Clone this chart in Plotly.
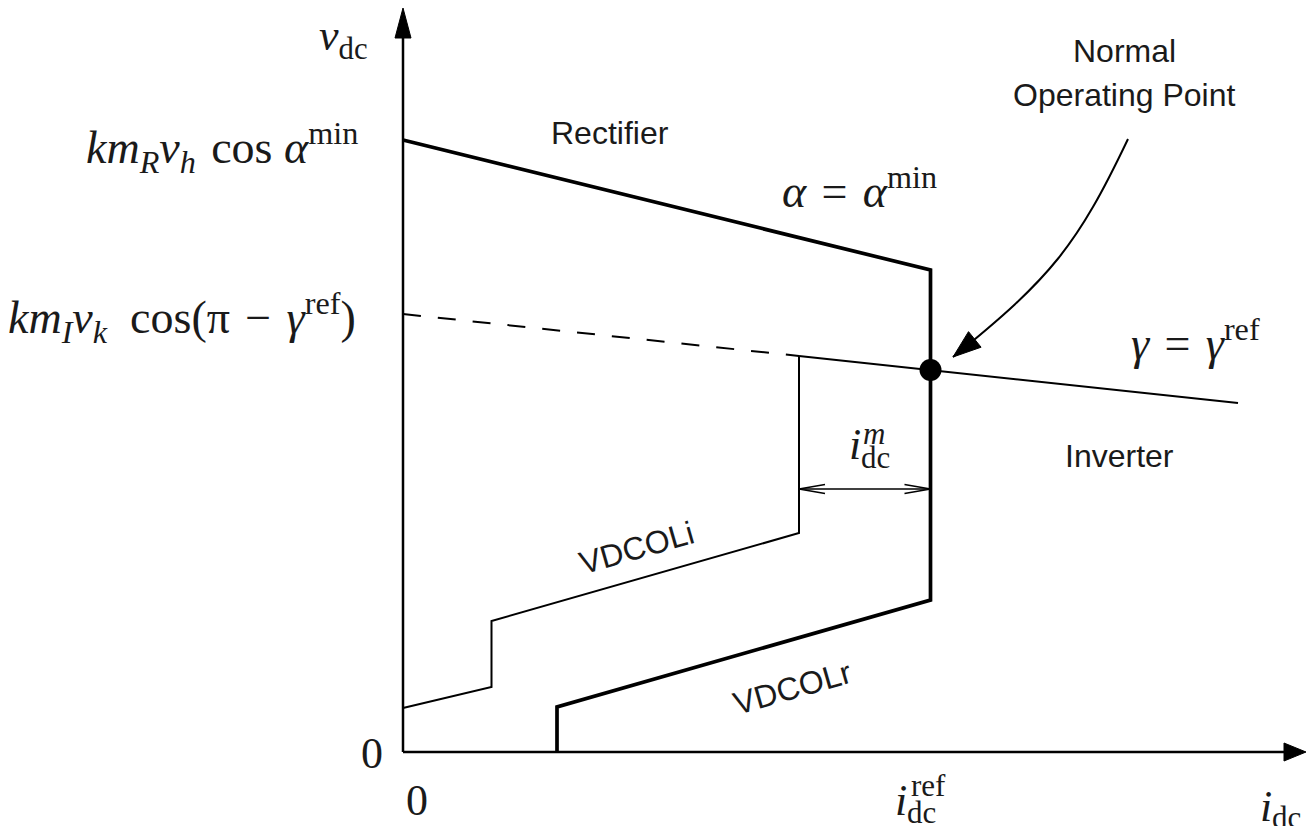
import numpy as np
import plotly.graph_objects as go

# ---------------- data (i_dc horizontal, v_dc vertical, arbitrary units) ----------------
rect_i = [0.0, 5.275, 5.275, 1.54, 1.54]          # alpha = alpha_min, current ctrl, VDCOLr
rect_v = [6.12, 4.82, 1.52, 0.45, 0.0]
inv_dash_i = [0.0, 3.96]                          # gamma = gamma_ref (extension)
inv_dash_v = [4.38, 3.96]
inv_i = [3.96, 8.35]                              # gamma = gamma_ref
inv_v = [3.96, 3.49]
vdcoli_i = [0.0, 0.885, 0.885, 3.96, 3.96]        # VDCOLi
vdcoli_v = [0.44, 0.65, 1.31, 2.19, 3.96]
op_i = [5.275]                                    # normal operating point
op_v = [3.82]
margin_i = [3.96, 5.275]                          # current margin i_dc^m
margin_v = [2.63, 2.63]
pointer_i = [7.25, 6.74, 6.48, 5.50]              # curved pointer (cubic Bezier)
pointer_v = [6.13, 5.06, 4.74, 3.95]
i_axis_max = 9.03
v_axis_max = 7.44

# ---------------- figure geometry ----------------
W, H = 1306, 826
X0, Y0 = -4.03, -0.74          # data coords of lower-left corner
XR = [X0, X0 + W / 100]
YR = [Y0, Y0 + H / 100]

fig = go.Figure()
BLK = "#000000"


def line(x, y, w, dash="solid"):
    fig.add_trace(go.Scatter(x=x, y=y, mode="lines", line=dict(color=BLK, width=w, dash=dash),
                             hoverinfo="skip", cliponaxis=False))


def tri(tip, direction, length, half):
    d = np.array(direction, float)
    d /= np.linalg.norm(d)
    p = np.array([-d[1], d[0]])
    t = np.array(tip, float)
    b = t - d * length
    pts = [t, b + p * half, b - p * half, t]
    fig.add_trace(go.Scatter(x=[q[0] for q in pts], y=[q[1] for q in pts], mode="lines",
                             fill="toself", fillcolor=BLK, line=dict(color=BLK, width=1),
                             hoverinfo="skip", cliponaxis=False))


def chevron(tip, direction, length, half, w):
    d = np.array(direction, float)
    d /= np.linalg.norm(d)
    p = np.array([-d[1], d[0]])
    t = np.array(tip, float)
    b = t - d * length
    a1, a2 = b + p * half, b - p * half
    line([a1[0], t[0], a2[0]], [a1[1], t[1], a2[1]], w)


# axes with arrows
line([0, 0], [0, v_axis_max - 0.28], 2.5)
tri((0, v_axis_max), (0, 1), 0.30, 0.08)
line([0, i_axis_max - 0.2], [0, 0], 2.5)
tri((i_axis_max, 0), (1, 0), 0.22, 0.09)

# characteristics
line(inv_dash_i, inv_dash_v, 2, dash="18px,17px")
line(inv_i, inv_v, 2)
line(vdcoli_i, vdcoli_v, 2)
line(rect_i, rect_v, 3.7)

# current margin double arrow
line(margin_i, margin_v, 1.6)
chevron((margin_i[0], margin_v[0]), (-1, 0), 0.26, 0.045, 1.6)
chevron((margin_i[1], margin_v[1]), (1, 0), 0.26, 0.045, 1.6)

# operating point
fig.add_trace(go.Scatter(x=op_i, y=op_v, mode="markers",
                         marker=dict(color=BLK, size=22, line=dict(width=0)),
                         hoverinfo="skip", cliponaxis=False))

# curved pointer
path = "M {},{} C {},{} {},{} {},{}".format(pointer_i[0], pointer_v[0], pointer_i[1], pointer_v[1],
                                             pointer_i[2], pointer_v[2], pointer_i[3], pointer_v[3])
fig.add_shape(type="path", path=path, xref="x", yref="y", line=dict(color=BLK, width=2))
tri((pointer_i[3], pointer_v[3]), (pointer_i[3] - pointer_i[2], pointer_v[3] - pointer_v[2]), 0.28, 0.10)

# ---------------- labels ----------------
SERIF = "Liberation Serif"
SANS = "Liberation Sans"
TXT = "#1a1a1a"
MS3 = "\u2004"  # three-per-em space
ES = "\u2002"   # en space


def px2d(xp, yp):
    return X0 + xp / 100, Y0 + (H - yp) / 100


def ann(text, xp, yp, size, fam, xa="center", ya="middle", angle=0):
    x, y = px2d(xp, yp)
    fig.add_annotation(x=x, y=y, xref="x", yref="y", text=text, showarrow=False,
                       xanchor=xa, yanchor=ya, textangle=angle,
                       font=dict(family=fam, size=size, color=TXT))


MS = 46
SUB = 31
ann("<i>v</i><sub>dc</sub>", 343, 38, 44, SERIF)
ann("<i>km</i><sub><i>R</i></sub><i>v</i><sub><i>h</i></sub>" + MS3 + "cos <i>α</i><sup>min</sup>",
    360, 147, MS, SERIF, xa="right")
ann("<i>km</i><sub><i>I</i></sub><i>v</i><sub><i>k</i></sub>" + ES + "cos(π" + MS3 + "−" + MS3
    + "<i>γ</i><sup>ref</sup>)", 358, 317, MS, SERIF, xa="right")
ann("0", 372, 753, 44, SERIF)
ann("0", 417, 800, 44, SERIF)
# i_dc^ref
ann("<i>i</i>", 893, 800, 44, SERIF, xa="left")
ann("dc", 905, 812, SUB, SERIF, xa="left")
ann("ref", 909, 785, SUB, SERIF, xa="left")
# i_dc (axis)
ann("<i>i</i>", 1258, 806, 44, SERIF, xa="left")
ann("dc", 1270, 817, SUB, SERIF, xa="left")
# i_dc^m
ann("<i>i</i>", 847, 444, 44, SERIF, xa="left")
ann("dc", 859, 457, SUB, SERIF, xa="left")
ann("<i>m</i>", 861, 433, SUB, SERIF, xa="left")

ann("<i>α</i>" + MS3 + "=" + MS3 + "<i>α</i><sup>min</sup>", 780, 188, MS, SERIF, xa="left")
ann("<i>γ</i>" + MS3 + "=" + MS3 + "<i>γ</i><sup>ref</sup>", 1129, 340, MS, SERIF, xa="left")

SS = 32
ann("Rectifier", 610, 133, SS, SANS)
ann("Inverter", 1119, 456, SS, SANS)
ann("Normal", 1124, 51, SS, SANS)
ann("Operating Point", 1124, 95, SS, SANS)
ann("VDCOLi", 636, 548, SS, SANS, angle=-16)
ann("VDCOLr", 792, 688, SS, SANS, angle=-16)

fig.update_layout(
    width=W, height=H, autosize=False,
    margin=dict(l=0, r=0, t=0, b=0),
    paper_bgcolor="white", plot_bgcolor="white",
    showlegend=False,
    xaxis=dict(range=XR, visible=False, fixedrange=True),
    yaxis=dict(range=YR, visible=False, fixedrange=True),
)

fig.write_html("out.html", config={"displayModeBar": False},
               post_script="document.body.style.margin='0px';document.body.style.overflow='hidden';")
